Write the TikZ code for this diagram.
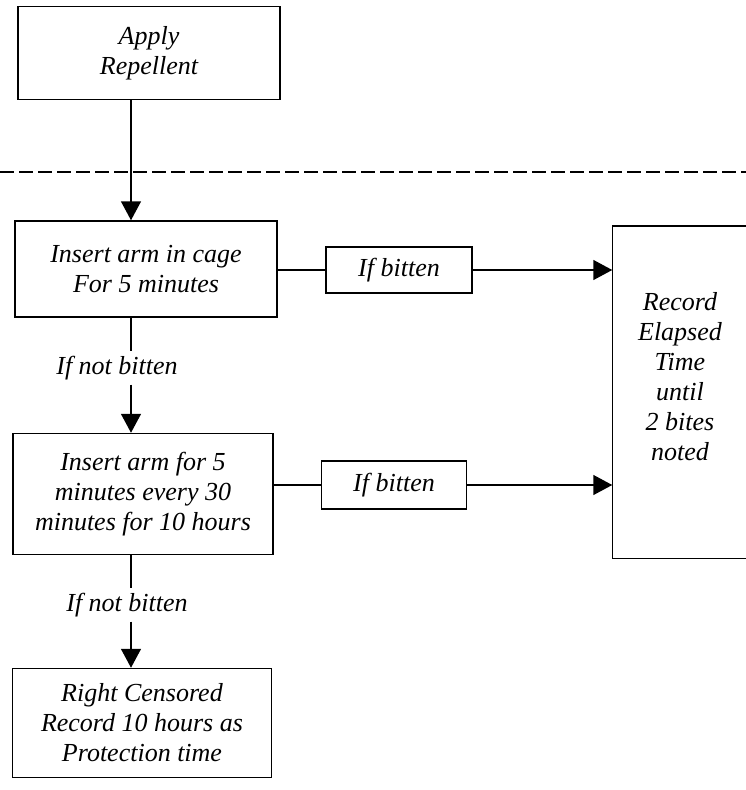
\documentclass[tikz,border=0pt]{standalone}
\usepackage{fontspec}
\setmainfont{Liberation Serif}
\usetikzlibrary{arrows.meta}

\begin{document}
\begin{tikzpicture}[x=1pt, y=-1pt, line width=1.5pt,
    font=\fontsize{26}{30}\selectfont\itshape,
    box/.style = {draw, rectangle, align=center, inner sep=0pt},
    tag/.style = {align=center, inner sep=4pt},
    freccia/.style = {-{Triangle[length=19pt,width=20pt]}}]
    \useasboundingbox (0,0) rectangle (746,790);
    \clip (0,0) rectangle (746,790);
    % Disegna i riquadri
    \node[box, minimum width=262pt, minimum height=93pt] (apply) at (149,53) {Apply\\Repellent};
    \node[box, minimum width=262pt, minimum height=96pt] (cage) at (146,269) {Insert arm in cage\\For 5 minutes};
    \node[box, minimum width=146pt, minimum height=46pt] (bit1) at (399,270) {If bitten};
    \node[box, minimum width=260pt, minimum height=121pt] (every) at (143,494) {Insert arm for 5\\minutes every 30\\minutes for 10 hours};
    \node[box, minimum width=145pt, minimum height=48pt] (bit2) at (394,485) {If bitten};
    \node[box, minimum width=259pt, minimum height=109pt] (cens) at (142,723) {Right Censored\\Record 10 hours as\\Protection time};
    % riquadro a destra, aperto sul bordo
    \node[minimum width=140pt, minimum height=331pt, inner sep=0pt] (rec) at (683,392) {};
    \node[tag] (rectxt) at (680,377) {Record\\Elapsed\\Time\\until\\2 bites\\noted};
    \draw (rec.north east) -- (rec.north west) -- (rec.south west) -- (rec.south east);
    % etichette sulle frecce
    \node[tag] (nb1) at (117,368) {If not bitten};
    \node[tag] (nb2) at (127,605) {If not bitten};
    \coordinate (spine) at (131,0);

    % linea tratteggiata
    \draw[line width=1.2pt, dash pattern=on 14pt off 5pt] (0,172) -- (746,172);

    % Disegna le frecce
    \draw[freccia] (apply.south -| spine) -- (cage.north -| spine);
    \draw (cage.east |- bit1) -- (bit1);
    \draw[freccia] (bit1) -- (rec.west |- bit1);
    \draw (cage.south -| spine) -- (nb1.north -| spine);
    \draw[freccia] (nb1.south -| spine) -- (every.north -| spine);
    \draw (every.east |- bit2) -- (bit2);
    \draw[freccia] (bit2) -- (rec.west |- bit2);
    \draw (every.south -| spine) -- (nb2.north -| spine);
    \draw[freccia] (nb2.south -| spine) -- (cens.north -| spine);
\end{tikzpicture}
\end{document}
